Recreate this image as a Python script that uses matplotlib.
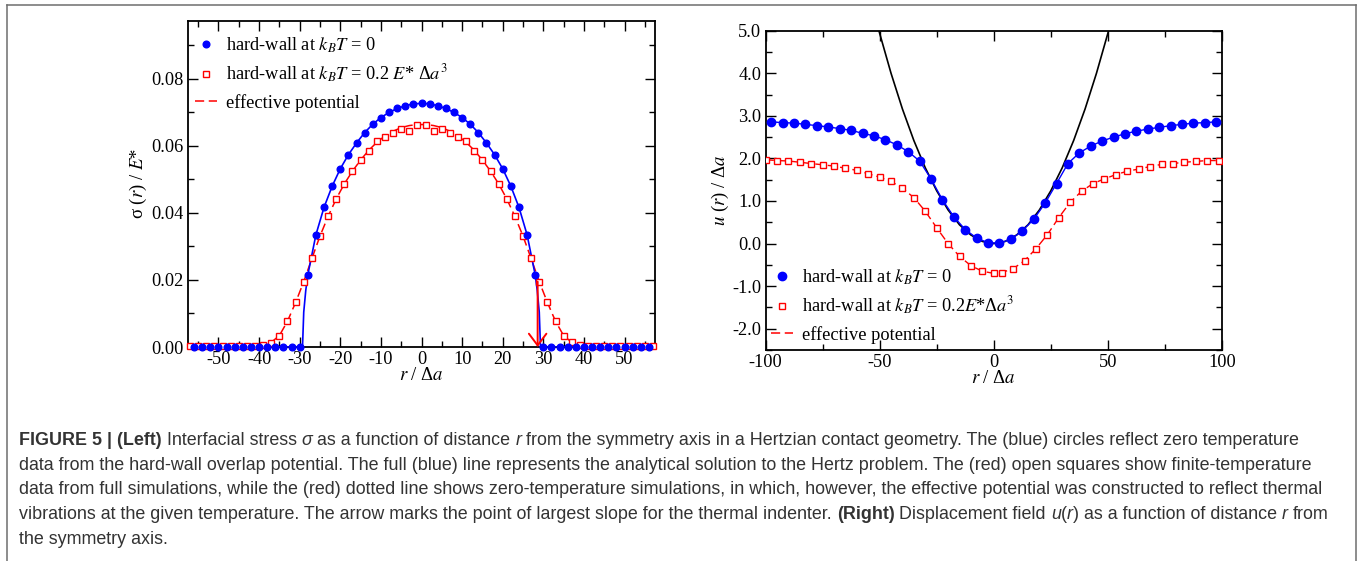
import numpy as np
import matplotlib
matplotlib.use("Agg")
import matplotlib.pyplot as plt
from matplotlib.lines import Line2D
from matplotlib.ticker import MultipleLocator, FormatStrFormatter

plt.rcParams['font.family'] = 'Liberation Serif'
plt.rcParams['mathtext.fontset'] = 'stix'
plt.rcParams['axes.unicode_minus'] = False

BLUE = '#0000ff'
RED = '#ff0000'

# ---------------- left panel: interfacial stress ----------------
# hard-wall at kT=0 (blue circles), every 2 units
r_hw = list(range(-56, 58, 2))
sig_hw = ([0.0] * 14 +
          [0.0215, 0.0335, 0.0417, 0.0480, 0.0532, 0.0574, 0.0609, 0.0640,
           0.0665, 0.0685, 0.0700, 0.0712, 0.0720, 0.0726, 0.0727,
           0.0726, 0.0720, 0.0712, 0.0700, 0.0685, 0.0665, 0.0640,
           0.0609, 0.0574, 0.0532, 0.0480, 0.0417, 0.0335, 0.0215] +
          [0.0] * 14)

# analytical Hertz solution (full blue line)
r_hertz = [-57.5, -29.3, -29.0, -28.5, -28, -26, -24, -22, -20, -18, -16, -14,
           -12, -10, -8, -6, -4, -2, 0, 2, 4, 6, 8, 10, 12, 14, 16, 18, 20,
           22, 24, 26, 28, 28.5, 29.0, 29.3, 57.5]
sig_hertz = [0.0, 0.0, 0.0104, 0.0169, 0.0215, 0.0335, 0.0417, 0.0480, 0.0532,
             0.0574, 0.0609, 0.0640, 0.0665, 0.0685, 0.0700, 0.0712, 0.0720,
             0.0726, 0.0727, 0.0726, 0.0720, 0.0712, 0.0700, 0.0685, 0.0665,
             0.0640, 0.0609, 0.0574, 0.0532, 0.0480, 0.0417, 0.0335, 0.0215,
             0.0169, 0.0104, 0.0, 0.0]

# hard-wall at kT = 0.2 E* da^3 (red squares), odd positions
r_th = list(range(-57, 58, 2))
sig_th = ([0.0003] * 9 +
          [0.0005, 0.0013, 0.0033, 0.0078, 0.0134, 0.0194, 0.0265, 0.0332,
           0.0391, 0.0442, 0.0487, 0.0524, 0.0558, 0.0586, 0.0615, 0.0626,
           0.0639, 0.0652, 0.0646, 0.0664,
           0.0664, 0.0646, 0.0652, 0.0639, 0.0626, 0.0615, 0.0586, 0.0558,
           0.0524, 0.0487, 0.0442, 0.0391, 0.0330, 0.0265, 0.0194, 0.0134,
           0.0078, 0.0033, 0.0015, 0.0005] +
          [0.0003] * 9)

# effective potential (red dashed)
r_eff = [-57.5, -41, -39, -37, -35, -33, -31, -29, -27, -25, -23, -21, -19, -17,
         -15, -13, -11, -9, -7, -5, -3, -1, 1, 3, 5, 7, 9, 11, 13, 15, 17, 19,
         21, 23, 25, 27, 29, 31, 33, 35, 37, 39, 41, 57.5]
sig_eff = [0.0, 0.0002, 0.0006, 0.0014, 0.0034, 0.0077, 0.0133, 0.0195, 0.0264,
           0.0331, 0.0390, 0.0442, 0.0487, 0.0525, 0.0558, 0.0587, 0.0611,
           0.0630, 0.0644, 0.0655, 0.0661, 0.0664, 0.0664, 0.0661, 0.0655,
           0.0644, 0.0630, 0.0611, 0.0587, 0.0558, 0.0525, 0.0487, 0.0442,
           0.0390, 0.0331, 0.0264, 0.0195, 0.0133, 0.0077, 0.0034, 0.0014,
           0.0006, 0.0002, 0.0]

arrow_r = 28.6
arrow_top = 0.0195

# ---------------- right panel: displacement field ----------------
ur_hw = [-97.5, -92.5, -87.5, -82.5, -77.5, -72.5, -67.5, -62.5, -57.5, -52.5,
         -47.5, -42.5, -37.5, -32.5, -27.5, -22.5, -17.5, -12.5, -7.5, -2.5,
         2.5, 7.5, 12.5, 17.5, 22.5, 27.5, 32.5, 37.5, 42.5, 47.5,
         52.5, 57.5, 62.5, 67.5, 72.5, 77.5, 82.5, 87.5, 92.5, 97.5]
u_hw = [2.86, 2.84, 2.83, 2.80, 2.77, 2.74, 2.70, 2.66, 2.59, 2.53,
        2.44, 2.32, 2.16, 1.94, 1.52, 1.03, 0.63, 0.33, 0.13, 0.02,
        0.01, 0.10, 0.30, 0.57, 0.95, 1.41, 1.88, 2.13, 2.29, 2.41,
        2.50, 2.58, 2.64, 2.69, 2.73, 2.77, 2.80, 2.83, 2.84, 2.86]

ur_th = [-100, -95, -90, -85, -80, -75, -70, -65, -60, -55, -50, -45, -40,
         -35, -30, -25, -20, -15, -10, -5, 0,
         3.5, 8.5, 13.5, 18.5, 23.5, 28.5, 33.5, 38.5, 43.5, 48.5, 53.5,
         58.5, 63.5, 68.5, 73.5, 78.5, 83.5, 88.5, 93.5, 98.5]
u_th = [1.97, 1.95, 1.94, 1.91, 1.88, 1.85, 1.82, 1.77, 1.72, 1.64, 1.56,
        1.46, 1.30, 1.08, 0.76, 0.37, 0.00, -0.30, -0.52, -0.65, -0.70,
        -0.68, -0.59, -0.40, -0.12, 0.21, 0.61, 0.97, 1.23, 1.41, 1.52, 1.62,
        1.70, 1.75, 1.81, 1.86, 1.88, 1.91, 1.93, 1.95, 1.95]

# indenter profile (black line)
ur_ind = [-52, -50, -45, -40, -35, -30, -25, -20, -15, -10, -5, 0,
          5, 10, 15, 20, 25, 30, 35, 40, 45, 50, 52]
u_ind = [5.34, 4.94, 4.00, 3.16, 2.42, 1.78, 1.24, 0.79, 0.44, 0.20, 0.05, 0.0,
         0.05, 0.20, 0.44, 0.79, 1.24, 1.78, 2.42, 3.16, 4.00, 4.94, 5.34]

lab_hw = r'hard-wall at $k_BT$ = 0'
lab_th_l = r'hard-wall at $k_BT$ = 0.2 $E$* Δ$a^3$'
lab_th_r = r'hard-wall at $k_BT$ = 0.2$E$*Δ$a^3$'
lab_eff = 'effective potential'

W, H = 1363, 561
fig = plt.figure(figsize=(W / 100, H / 100), dpi=100)

FS = 13.2
LFS = 13.5


def style_axes(ax):
    ax.tick_params(which='both', direction='in', top=True, right=True,
                   labelsize=FS, width=1.0, pad=3)
    ax.tick_params(which='major', length=7)
    ax.tick_params(which='minor', length=4)
    for sp in ax.spines.values():
        sp.set_linewidth(1.3)


# left axes
axL = fig.add_axes([188 / W, 1 - 347 / H, (655 - 188) / W, (347 - 20.7) / H])
axL.plot(r_hertz, sig_hertz, color=BLUE, lw=1.2, zorder=3)
axL.plot(r_eff, sig_eff, color=RED, lw=1.1, dashes=(6, 3), zorder=2)
axL.plot(r_th, sig_th, ls='none', marker='s', ms=4.3, mfc='white', mec=RED,
         mew=1.0, zorder=4, clip_on=False)
axL.plot(r_hw, sig_hw, ls='none', marker='o', ms=4.8, color=BLUE, zorder=5,
         clip_on=False)
axL.annotate('', xy=(arrow_r, 0.0), xytext=(arrow_r, arrow_top),
             arrowprops=dict(arrowstyle='->,head_length=0.6,head_width=0.45',
                             color=RED, lw=1.4, mutation_scale=14,
                             shrinkA=0, shrinkB=0), zorder=6)
axL.set_xlim(-57.5, 57.5)
axL.set_ylim(0, 0.0974)
axL.xaxis.set_major_locator(MultipleLocator(10))
axL.xaxis.set_minor_locator(MultipleLocator(5))
axL.yaxis.set_major_locator(MultipleLocator(0.02))
axL.yaxis.set_minor_locator(MultipleLocator(0.01))
axL.yaxis.set_major_formatter(FormatStrFormatter('%.2f'))
axL.xaxis.set_major_formatter(FormatStrFormatter('%d'))
style_axes(axL)
axL.set_xlabel(r'$r$ / Δ$a$', fontsize=LFS, labelpad=-1)
axL.set_ylabel(r'σ ($r$) / $E$*', fontsize=LFS, labelpad=2)

handles = [Line2D([], [], ls='none', marker='o', ms=4.8, color=BLUE),
           Line2D([], [], ls='none', marker='s', ms=4.3, mfc='white', mec=RED, mew=1.0),
           Line2D([], [], color=RED, lw=1.1, dashes=(6, 3))]
axL.legend(handles, [lab_hw, lab_th_l, lab_eff], loc='upper left',
           bbox_to_anchor=(0.014, 0.955), frameon=False, fontsize=FS,
           handlelength=1.2, handletextpad=0.5, labelspacing=0.45,
           borderaxespad=0, borderpad=0)

# right axes
axR = fig.add_axes([765.5 / W, 1 - 350 / H, (1222 - 765.5) / W, (350 - 30.7) / H])
axR.plot(ur_ind, u_ind, color='black', lw=1.2, zorder=2)
axR.plot(ur_hw, u_hw, color=BLUE, lw=1.0, zorder=3)
axR.plot(ur_th, u_th, color=RED, lw=1.0, dashes=(6, 3), zorder=3)
axR.plot(ur_th, u_th, ls='none', marker='s', ms=4.5, mfc='white', mec=RED,
         mew=1.0, zorder=4)
axR.plot(ur_hw, u_hw, ls='none', marker='o', ms=6.0, color=BLUE, zorder=5)
axR.set_xlim(-100, 100)
axR.set_ylim(-2.5, 5.0)
axR.xaxis.set_major_locator(MultipleLocator(50))
axR.xaxis.set_minor_locator(MultipleLocator(25))
axR.yaxis.set_major_locator(MultipleLocator(1.0))
axR.yaxis.set_minor_locator(MultipleLocator(0.5))
axR.yaxis.set_major_formatter(FormatStrFormatter('%.1f'))
axR.xaxis.set_major_formatter(FormatStrFormatter('%d'))
style_axes(axR)
axR.set_xlabel(r'$r$ / Δ$a$', fontsize=LFS, labelpad=-1)
axR.set_ylabel(r'$u$ ($r$) / Δ$a$', fontsize=LFS, labelpad=1)

handlesR = [Line2D([], [], ls='none', marker='o', ms=6.0, color=BLUE),
            Line2D([], [], ls='none', marker='s', ms=4.5, mfc='white', mec=RED, mew=1.0),
            Line2D([], [], color=RED, lw=1.1, dashes=(6, 3))]
axR.legend(handlesR, [lab_hw, lab_th_r, lab_eff], loc='lower left',
           bbox_to_anchor=(0.012, 0.02), frameon=False, fontsize=FS,
           handlelength=1.2, handletextpad=0.5, labelspacing=0.45,
           borderaxespad=0, borderpad=0)

# outer frame (open at the bottom)
frame_kw = dict(color='#6e6e6e', lw=1.1, transform=fig.transFigure)
fig.add_artist(Line2D([7.3 / W, 1356 / W], [1 - 4.7 / H, 1 - 4.7 / H], **frame_kw))
fig.add_artist(Line2D([7.3 / W, 7.3 / W], [0, 1 - 4.7 / H], **frame_kw))
fig.add_artist(Line2D([1356 / W, 1356 / W], [0, 1 - 4.7 / H], **frame_kw))

# caption
caption = [
    [("FIGURE 5 | (Left)", 'bold', 'normal'), (" Interfacial stress ", 'normal', 'normal'),
     ("σ", 'normal', 'italic'), (" as a function of distance ", 'normal', 'normal'),
     ("r", 'normal', 'italic'),
     (" from the symmetry axis in a Hertzian contact geometry. The (blue) circles reflect zero temperature",
      'normal', 'normal')],
    [("data from the hard-wall overlap potential. The full (blue) line represents the analytical solution "
      "to the Hertz problem. The (red) open squares show finite-temperature", 'normal', 'normal')],
    [("data from full simulations, while the (red) dotted line shows zero-temperature simulations, in which, "
      "however, the effective potential was constructed to reflect thermal", 'normal', 'normal')],
    [("vibrations at the given temperature. The arrow marks the point of largest slope for the thermal "
      "indenter. ", 'normal', 'normal'), ("(Right)", 'bold', 'normal'),
     (" Displacement field ", 'normal', 'normal'), ("u", 'normal', 'italic'),
     ("(", 'normal', 'normal'), ("r", 'normal', 'italic'),
     (") as a function of distance ", 'normal', 'normal'), ("r", 'normal', 'italic'),
     (" from", 'normal', 'normal')],
    [("the symmetry axis.", 'normal', 'normal')],
]
cap_base = [445, 470, 494.5, 519, 543.5]
CFS = 12.9
renderer = fig.canvas.get_renderer()


def text_width(s, weight, style):
    t = fig.text(0, 0, s, fontsize=CFS, family='Liberation Sans', weight=weight, style=style)
    w = t.get_window_extent(renderer).width
    t.remove()
    return w


space_w = text_width('a a', 'normal', 'normal') - text_width('aa', 'normal', 'normal')

for parts, yb in zip(caption, cap_base):
    x = 19.0
    for s, weight, style in parts:
        lead = len(s) - len(s.lstrip(' '))
        trail = len(s) - len(s.rstrip(' '))
        core = s.strip(' ')
        x += lead * space_w
        fig.text(x / W, 1 - yb / H, core, fontsize=CFS, family='Liberation Sans',
                 weight=weight, style=style, color='#333333', va='baseline')
        x += text_width(core, weight, style) + trail * space_w

fig.savefig('out.png', dpi=100)
